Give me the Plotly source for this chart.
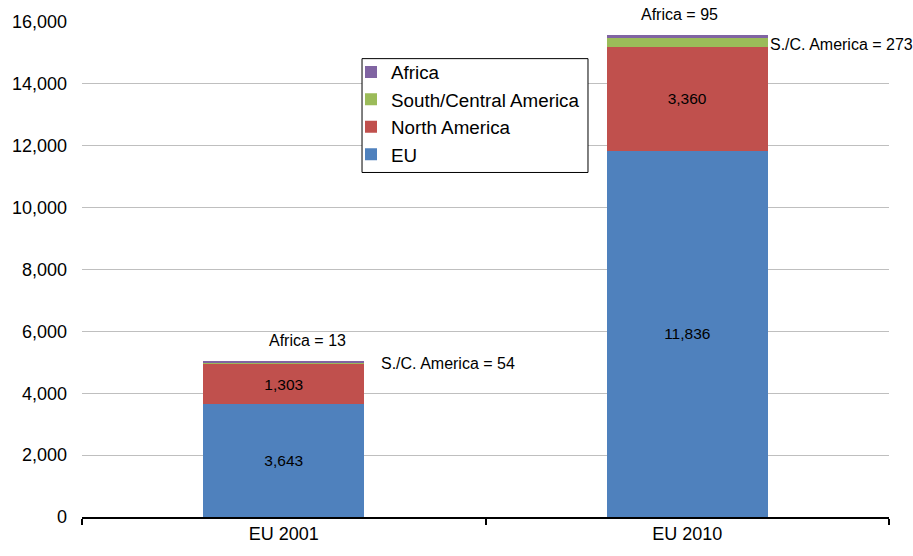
import plotly.graph_objects as go

categories = ["EU 2001", "EU 2010"]
eu = [3643, 11836]
north_america = [1303, 3360]
south_central_america = [54, 273]
africa = [13, 95]

FONT = "Liberation Sans, Arial, sans-serif"
Y_MAX = 16000

fig = go.Figure()
fig.add_trace(go.Bar(name="EU", x=categories, y=eu, marker_color="#4F81BD",
                     text=[f"{v:,}" for v in eu], textposition="inside",
                     insidetextanchor="middle",
                     textfont=dict(color="black", size=15.5, family=FONT)))
fig.add_trace(go.Bar(name="North America", x=categories, y=north_america, marker_color="#C0504D",
                     text=[f"{v:,}" for v in north_america], textposition="inside",
                     insidetextanchor="middle",
                     textfont=dict(color="black", size=15.5, family=FONT)))
fig.add_trace(go.Bar(name="South/Central America", x=categories, y=south_central_america,
                     marker_color="#9BBB59"))
fig.add_trace(go.Bar(name="Africa", x=categories, y=africa, marker_color="#8064A2"))

fig.update_traces(marker_line_width=0)

totals = [a + b + c + d for a, b, c, d in zip(eu, north_america, south_central_america, africa)]

# annotations (y in paper units so labels above the axis range still show)
ann_font = dict(size=16, color="black", family=FONT)
fig.add_annotation(x=0.06, y=(totals[0] + 700) / Y_MAX, xref="x", yref="paper",
                   text=f"Africa = {africa[0]}",
                   showarrow=False, font=ann_font, xanchor="center", yanchor="middle")
fig.add_annotation(x=0.235, y=(totals[0] - 60) / Y_MAX, xref="x", yref="paper",
                   text=f"S./C. America = {south_central_america[0]}",
                   showarrow=False, font=ann_font, xanchor="left", yanchor="middle")
fig.add_annotation(x=0.98, y=(totals[1] + 690) / Y_MAX, xref="x", yref="paper",
                   text=f"Africa = {africa[1]}",
                   showarrow=False, font=ann_font, xanchor="center", yanchor="middle")
fig.add_annotation(x=1.2, y=(totals[1] - 300) / Y_MAX, xref="x", yref="paper",
                   text=f"S./C. America = {south_central_america[1]}",
                   showarrow=False, font=ann_font, xanchor="left", yanchor="middle")

# legend frame
fig.add_shape(type="rect", xref="paper", yref="paper", x0=0.347, x1=0.627, y0=0.696, y1=0.926,
              line=dict(color="black", width=1), fillcolor="white", layer="above")

fig.update_layout(
    barmode="stack",
    bargap=0.6,
    width=913, height=556,
    margin=dict(l=82, r=24, t=20, b=36),
    plot_bgcolor="white", paper_bgcolor="white",
    font=dict(family=FONT, color="black", size=18),
    legend=dict(x=(351 - 82) / 807, y=0.937, xanchor="left", yanchor="top",
                borderwidth=0, bgcolor="rgba(0,0,0,0)",
                font=dict(size=18.8, family=FONT, color="black"),
                traceorder="reversed", itemwidth=30, tracegroupgap=0),
    xaxis=dict(range=[-0.5, 1.5], showline=True, linecolor="black", linewidth=1.5,
               ticks="outside", tickson="boundaries", ticklen=6, tickcolor="black",
               tickwidth=1.5, tickfont=dict(size=18, family=FONT, color="black"),
               showgrid=False),
    yaxis=dict(range=[0, Y_MAX], dtick=2000, tickformat=",", showgrid=True,
               gridcolor="#BFBFBF", gridwidth=1, zeroline=False, showline=False,
               ticks="", ticklabelstandoff=14,
               tickfont=dict(size=18, family=FONT, color="black")),
)

fig.write_html("out.html")
